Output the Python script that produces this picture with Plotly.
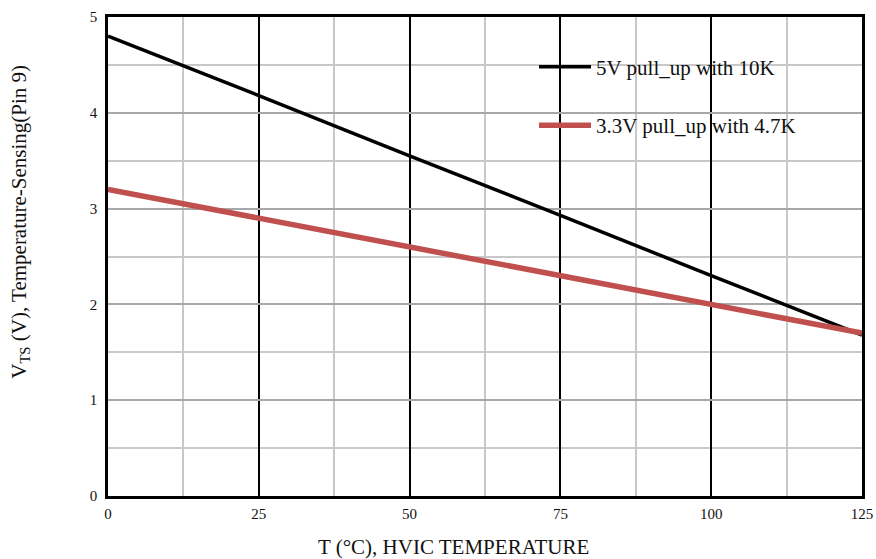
import plotly.graph_objects as go

temps = [0, 25, 50, 75, 100, 125]
v_5v_10k = [4.80, 4.18, 3.55, 2.93, 2.30, 1.68]
v_33v_47k = [3.20, 2.90, 2.60, 2.30, 2.00, 1.70]
names = ["5V pull_up with 10K", "3.3V pull_up with 4.7K"]
x_title = "T (°C), HVIC TEMPERATURE"
y_title = "V<sub>TS</sub> (V), Temperature-Sensing(Pin 9)"

font = "Liberation Serif, Times New Roman, serif"

fig = go.Figure()
fig.add_trace(go.Scatter(x=temps, y=v_5v_10k, mode="lines", name=names[0],
                         line=dict(color="black", width=3.5), legendgroup="a"))
fig.add_trace(go.Scatter(x=temps, y=v_33v_47k, mode="lines", name=names[1],
                         line=dict(color="#C0504D", width=5.5), legendgroup="b"))

fig.update_layout(
    width=876, height=559,
    margin=dict(l=108, r=14, t=17, b=63),
    paper_bgcolor="white", plot_bgcolor="white",
    font=dict(family=font, color="#111", size=15),
    showlegend=True,
    legend=dict(x=0.565, y=0.938, xanchor="left", yanchor="top",
                bgcolor="rgba(0,0,0,0)", font=dict(size=21, family=font, color="#111"),
                tracegroupgap=28, traceorder="grouped", itemwidth=52),
    annotations=[
        dict(text=x_title, xref="paper", yref="paper", x=0.4576, y=-0.106,
             xanchor="center", yanchor="middle", showarrow=False,
             font=dict(size=21, family=font, color="#111")),
        dict(text=y_title, xref="paper", yref="paper", x=-0.117, y=0.572,
             xanchor="center", yanchor="middle", showarrow=False, textangle=-90,
             font=dict(size=21, family=font, color="#111")),
    ],
)
fig.update_xaxes(
    range=[0, 125], tickvals=temps, showline=True, linecolor="black", linewidth=2.5,
    mirror=True, showgrid=True, gridcolor="black", gridwidth=2, zeroline=False,
    ticks="", tickfont=dict(size=15), automargin=False, ticklabelstandoff=2,
    minor=dict(dtick=12.5, tick0=0, showgrid=True, gridcolor="#C8C8C8", gridwidth=2),
)
fig.update_yaxes(
    range=[0, 5], dtick=1, showline=True, linecolor="black", linewidth=2.5,
    mirror=True, showgrid=True, gridcolor="#A8A8A8", gridwidth=2, zeroline=False,
    ticks="", tickfont=dict(size=15), automargin=False, ticklabelstandoff=5,
    minor=dict(dtick=0.5, showgrid=True, gridcolor="#C8C8C8", gridwidth=2),
)

fig.write_html("out.html", config={"displayModeBar": False},
               post_script="document.body.style.margin='0';document.body.style.overflow='hidden';")
